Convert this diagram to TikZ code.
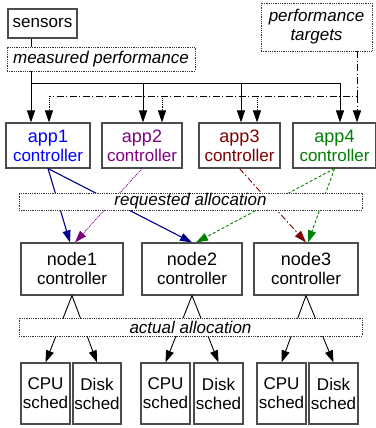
\documentclass[tikz,border=0pt]{standalone}
\usepackage{fontspec}
\setmainfont{Liberation Sans}
\usetikzlibrary{arrows.meta,positioning}

\definecolor{appblue}{RGB}{0,0,255}
\definecolor{arrblue}{RGB}{0,0,140}
\definecolor{apppurple}{RGB}{128,0,128}
\definecolor{appred}{RGB}{128,0,0}
\definecolor{appgreen}{RGB}{0,128,0}

\tikzset{
  box/.style={draw=black!70, line width=1.1pt, fill=white, align=center, inner sep=0pt,
    font=\fontsize{17}{19}\selectfont},
  tagbox/.style={draw=black!80, densely dotted, line width=0.8pt, fill=white, align=center,
    inner sep=0pt, font=\fontsize{17}{19}\selectfont\itshape},
  arr/.style={-{Triangle[length=12pt,width=8pt]}},
  conn/.style={line width=0.9pt},
  target line/.style={line width=0.9pt, dash pattern=on 7pt off 2.5pt on 1pt off 2.5pt},
}

\begin{document}
\begin{tikzpicture}[x=1pt,y=-1pt]
\useasboundingbox (0,0) rectangle (375,428);

% Sensors and targets
\node[box, minimum width=69, minimum height=29] (sensors) at (42.5,23.5) {sensors};
\node[tagbox, minimum width=111, minimum height=48] (targets) at (316.5,27) {performance\\targets};

% Application controllers
\node[box, minimum width=84, minimum height=45, text=appblue] (app1) at (48,145.5)
  {{\fontsize{18}{19}\selectfont app1}\\controller};
\node[box, minimum width=80, minimum height=45, text=apppurple] (app2) at (142,145.5)
  {{\fontsize{18}{19}\selectfont app2}\\controller};
\node[box, minimum width=81, minimum height=45, text=appred] (app3) at (239.5,145.5)
  {{\fontsize{18}{19}\selectfont app3}\\controller};
\node[box, minimum width=83, minimum height=45, text=appgreen] (app4) at (334.5,145.5)
  {{\fontsize{18}{19}\selectfont app4}\\controller};

% Node controllers
\node[box, minimum width=102, minimum height=52] (node1) at (72,269)
  {{\fontsize{18}{20}\selectfont node1}\\controller};
\node[box, minimum width=100, minimum height=52] (node2) at (192,269)
  {{\fontsize{18}{20}\selectfont node2}\\controller};
\node[box, minimum width=104, minimum height=52] (node3) at (306,269)
  {{\fontsize{18}{20}\selectfont node3}\\controller};

% Schedulers
\node[box, minimum width=49, minimum height=61] (cpu1) at (45.5,393.5) {CPU\\sched};
\node[box, minimum width=48, minimum height=61] (disk1) at (97,393.5) {Disk\\sched};
\node[box, minimum width=49, minimum height=61] (cpu2) at (165.5,393.5) {CPU\\sched};
\node[box, minimum width=49, minimum height=61] (disk2) at (218.5,393.5) {Disk\\sched};
\node[box, minimum width=49, minimum height=61] (cpu3) at (281.5,393.5) {CPU\\sched};
\node[box, minimum width=49, minimum height=61] (disk3) at (333.5,393.5) {Disk\\sched};

% Measured performance bus
\coordinate (bus1) at (31,83);
\coordinate (bus2) at (143,83);
\coordinate (bus3) at (241,83);
\coordinate (bus4) at (340,83);
\draw[conn] (sensors.south -| bus1) -- (bus1) -- (bus4);
\foreach \b/\a in {bus1/app1, bus2/app2, bus3/app3, bus4/app4}
  \draw[conn, arr] (\b) -- (\b |- \a.north);

% Performance targets bus
\coordinate (tbus1) at (49,96);
\coordinate (tbus2) at (162,96);
\coordinate (tbus3) at (257,96);
\coordinate (tbus4) at (357,96);
\draw[target line] (targets.south -| tbus4) -- (tbus4) -- (tbus1);
\foreach \b/\a in {tbus1/app1, tbus2/app2, tbus3/app3}
  \draw[conn, densely dotted, arr] (\b) -- (\b |- \a.north);
\draw[target line, arr] (tbus4) -- (tbus4 |- app4.north);

% Requested allocations
\draw[conn, arr, arrblue, line width=1.1pt] (app1.south) -- ([xshift=-2]node1.north);
\draw[conn, arr, arrblue, line width=1.1pt] (app1.south) -- (node2.north);
\draw[conn, arr, apppurple, densely dotted] (app2.south) -- ([xshift=3]node1.north);
\draw[conn, arr, appred, dash pattern=on 6pt off 2.5pt on 1.5pt off 2.5pt] (app3.south) -- (node3.north);
\draw[conn, arr, appgreen, densely dashed] (app4.south) -- ([xshift=4]node2.north);
\draw[conn, arr, appgreen, densely dashed] (app4.south) -- ([xshift=2]node3.north);

% Actual allocations
\foreach \n/\c/\d in {node1/cpu1/disk1, node2/cpu2/disk2, node3/cpu3/disk3} {
  \draw[conn, arr] (\n.south) -- (\c.north);
  \draw[conn, arr] (\n.south) -- (\d.north);
}

% Label boxes over the lines
\node[tagbox, minimum width=188, minimum height=24] (measured) at (101,59) {measured performance};
\node[tagbox, minimum width=343, minimum height=17] (requested) at (190.5,201.5) {requested allocation};
\node[tagbox, minimum width=343, minimum height=18] (actual) at (190.5,327) {actual allocation};
\end{tikzpicture}
\end{document}
